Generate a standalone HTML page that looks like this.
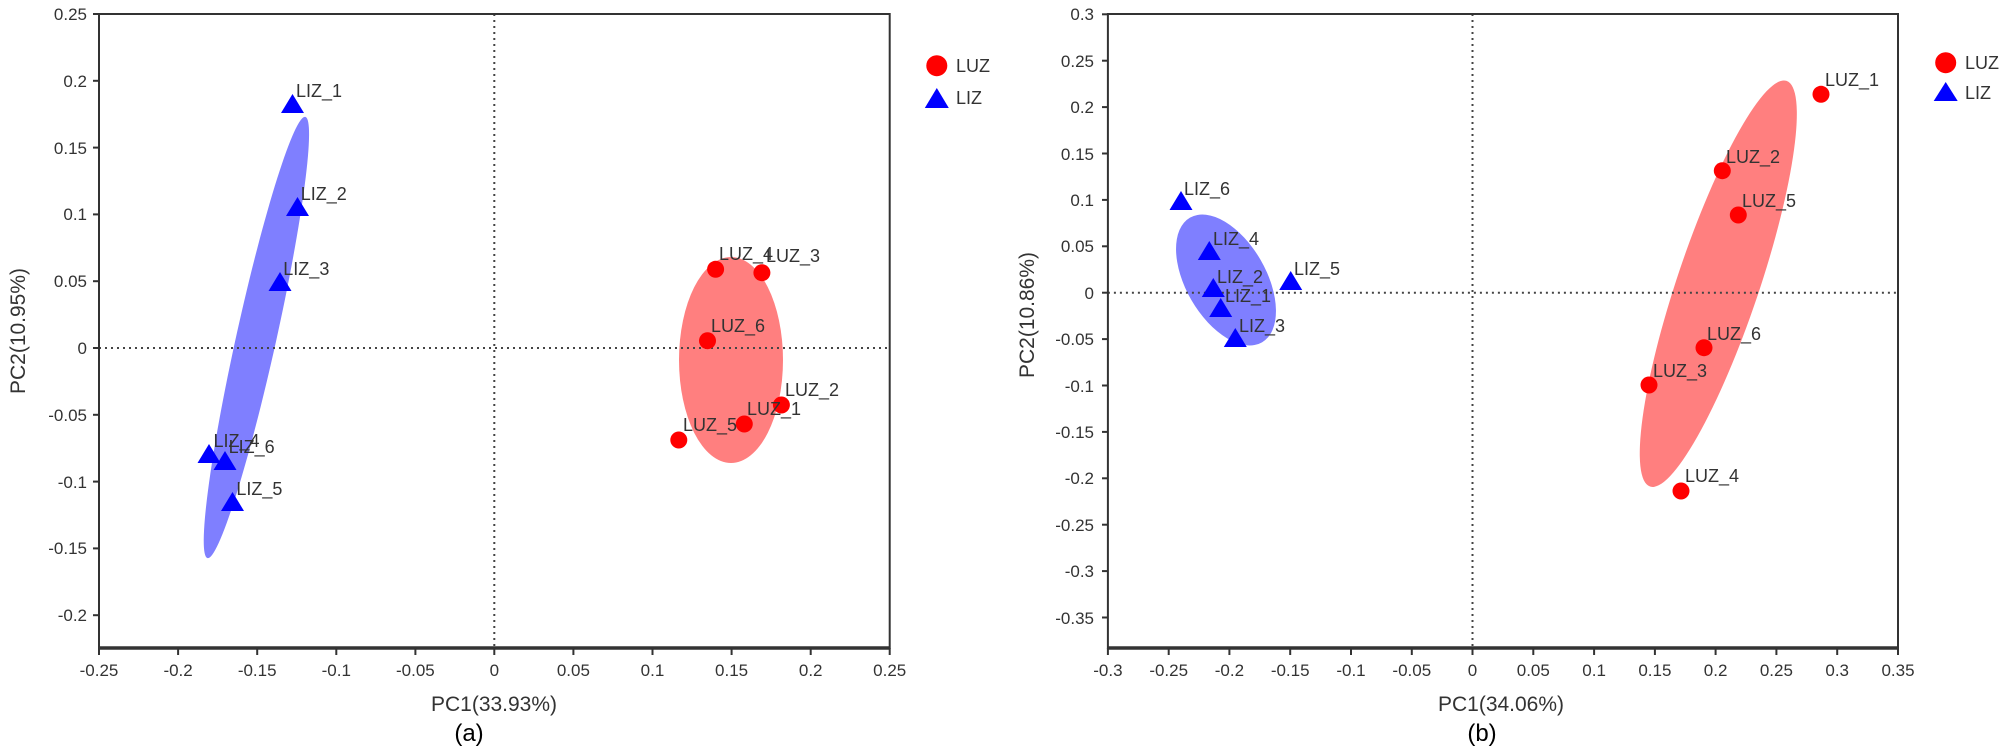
<!DOCTYPE html>
<html><head><meta charset="utf-8"><style>
html,body{margin:0;padding:0;background:#fff;}
svg{display:block;}
text{font-family:"Liberation Sans",Arial,sans-serif;fill:#333;}
.t{font-size:17px;}
.p{font-size:18px;}
.ax{font-size:21px;}
</style></head><body>
<svg width="2007" height="754" viewBox="0 0 2007 754" xmlns="http://www.w3.org/2000/svg">
<rect width="2007" height="754" fill="#fff"/>

<!-- ===== LEFT PLOT ===== -->
<ellipse cx="256.4" cy="337.5" rx="20" ry="226" transform="rotate(12.5 256.4 337.5)" fill="#7f7fff"/>
<ellipse cx="731" cy="360" rx="52" ry="103" fill="#ff7f7f"/>
<line x1="99" y1="348" x2="889.7" y2="348" stroke="#444" stroke-width="2" stroke-dasharray="2,4"/>
<line x1="494.3" y1="14" x2="494.3" y2="648" stroke="#444" stroke-width="2" stroke-dasharray="2,4"/>
<rect x="99" y="14" width="790.7" height="634" fill="none" stroke="#333" stroke-width="2"/>
<line x1="99" y1="648" x2="889.7" y2="648" stroke="#333" stroke-width="3.5"/>
<g stroke="#333" stroke-width="2">
<line x1="93" y1="14" x2="99" y2="14"/><line x1="93" y1="80.8" x2="99" y2="80.8"/><line x1="93" y1="147.6" x2="99" y2="147.6"/><line x1="93" y1="214.4" x2="99" y2="214.4"/><line x1="93" y1="281.2" x2="99" y2="281.2"/><line x1="93" y1="348" x2="99" y2="348"/><line x1="93" y1="414.8" x2="99" y2="414.8"/><line x1="93" y1="481.6" x2="99" y2="481.6"/><line x1="93" y1="548.4" x2="99" y2="548.4"/><line x1="93" y1="615.2" x2="99" y2="615.2"/>
<line x1="99" y1="648" x2="99" y2="655"/><line x1="178.1" y1="648" x2="178.1" y2="655"/><line x1="257.2" y1="648" x2="257.2" y2="655"/><line x1="336.3" y1="648" x2="336.3" y2="655"/><line x1="415.4" y1="648" x2="415.4" y2="655"/><line x1="494.3" y1="648" x2="494.3" y2="655"/><line x1="573.4" y1="648" x2="573.4" y2="655"/><line x1="652.5" y1="648" x2="652.5" y2="655"/><line x1="731.6" y1="648" x2="731.6" y2="655"/><line x1="810.7" y1="648" x2="810.7" y2="655"/><line x1="889.7" y1="648" x2="889.7" y2="655"/>
</g>
<g class="t" text-anchor="end">
<text x="87" y="20">0.25</text><text x="87" y="87">0.2</text><text x="87" y="154">0.15</text><text x="87" y="220">0.1</text><text x="87" y="287">0.05</text><text x="87" y="354">0</text><text x="87" y="421">-0.05</text><text x="87" y="488">-0.1</text><text x="87" y="554">-0.15</text><text x="87" y="621">-0.2</text>
</g>
<g class="t" text-anchor="middle">
<text x="99" y="676">-0.25</text><text x="178.1" y="676">-0.2</text><text x="257.2" y="676">-0.15</text><text x="336.3" y="676">-0.1</text><text x="415.4" y="676">-0.05</text><text x="494.3" y="676">0</text><text x="573.4" y="676">0.05</text><text x="652.5" y="676">0.1</text><text x="731.6" y="676">0.15</text><text x="810.7" y="676">0.2</text><text x="889.7" y="676">0.25</text>
</g>
<text class="ax" x="494" y="711" text-anchor="middle">PC1(33.93%)</text>
<text x="469" y="741" text-anchor="middle" style="font-size:24px;fill:#000">(a)</text>
<text class="ax" transform="translate(25,331) rotate(-90)" text-anchor="middle">PC2(10.95%)</text>
<!-- left points -->
<g fill="#0000ff">
<polygon points="281,113 304,113 292.5,94"/>
<polygon points="286,216 309,216 297.5,197"/>
<polygon points="268.5,291 291.5,291 280,272"/>
<polygon points="197.5,463 220.5,463 209,444"/>
<polygon points="213.5,470 236.5,470 225,451"/>
<polygon points="221,511 244,511 232.5,492"/>
</g>
<g fill="#ff0000">
<circle cx="715.6" cy="269.3" r="8.5"/><circle cx="761.9" cy="272.7" r="8.5"/><circle cx="707.5" cy="340.7" r="8.5"/><circle cx="781.4" cy="405" r="8.5"/><circle cx="744.3" cy="424" r="8.5"/><circle cx="678.8" cy="440" r="8.5"/>
</g>
<g class="p">
<text x="296" y="97">LIZ_1</text><text x="300.7" y="200">LIZ_2</text><text x="283.3" y="275">LIZ_3</text><text x="213.5" y="447">LIZ_4</text><text x="228.6" y="453">LIZ_6</text><text x="236.4" y="495">LIZ_5</text>
<text x="719" y="260">LUZ_4</text><text x="766" y="262">LUZ_3</text><text x="711" y="332">LUZ_6</text><text x="785" y="396">LUZ_2</text><text x="747" y="415">LUZ_1</text><text x="683" y="431">LUZ_5</text>
</g>
<!-- legend left -->
<circle cx="936.8" cy="65.7" r="10.5" fill="#ff0000"/>
<polygon points="924.8,108 948.8,108 936.8,88" fill="#0000ff"/>
<text class="p" x="956" y="72">LUZ</text>
<text class="p" x="956" y="104">LIZ</text>

<!-- ===== RIGHT PLOT ===== -->
<ellipse cx="1226" cy="280" rx="40" ry="72" transform="rotate(-30 1226 280)" fill="#7f7fff"/>
<ellipse cx="1718.3" cy="283.7" rx="41" ry="214" transform="rotate(18.6 1718.3 283.7)" fill="#ff7f7f"/>
<line x1="1107.9" y1="292.7" x2="1898" y2="292.7" stroke="#444" stroke-width="2" stroke-dasharray="2,4"/>
<line x1="1472.5" y1="14" x2="1472.5" y2="648" stroke="#444" stroke-width="2" stroke-dasharray="2,4"/>
<rect x="1107.9" y="14" width="790.1" height="634" fill="none" stroke="#333" stroke-width="2"/>
<line x1="1107.9" y1="648" x2="1898" y2="648" stroke="#333" stroke-width="3.5"/>
<g stroke="#333" stroke-width="2">
<line x1="1102" y1="14.3" x2="1108" y2="14.3"/><line x1="1102" y1="60.7" x2="1108" y2="60.7"/><line x1="1102" y1="107.1" x2="1108" y2="107.1"/><line x1="1102" y1="153.5" x2="1108" y2="153.5"/><line x1="1102" y1="199.9" x2="1108" y2="199.9"/><line x1="1102" y1="246.3" x2="1108" y2="246.3"/><line x1="1102" y1="292.7" x2="1108" y2="292.7"/><line x1="1102" y1="339.1" x2="1108" y2="339.1"/><line x1="1102" y1="385.5" x2="1108" y2="385.5"/><line x1="1102" y1="431.9" x2="1108" y2="431.9"/><line x1="1102" y1="478.3" x2="1108" y2="478.3"/><line x1="1102" y1="524.7" x2="1108" y2="524.7"/><line x1="1102" y1="571.1" x2="1108" y2="571.1"/><line x1="1102" y1="617.5" x2="1108" y2="617.5"/>
<line x1="1107.9" y1="648" x2="1107.9" y2="655"/><line x1="1168.7" y1="648" x2="1168.7" y2="655"/><line x1="1229.4" y1="648" x2="1229.4" y2="655"/><line x1="1290.2" y1="648" x2="1290.2" y2="655"/><line x1="1351" y1="648" x2="1351" y2="655"/><line x1="1411.8" y1="648" x2="1411.8" y2="655"/><line x1="1472.5" y1="648" x2="1472.5" y2="655"/><line x1="1533.3" y1="648" x2="1533.3" y2="655"/><line x1="1594.1" y1="648" x2="1594.1" y2="655"/><line x1="1654.9" y1="648" x2="1654.9" y2="655"/><line x1="1715.6" y1="648" x2="1715.6" y2="655"/><line x1="1776.4" y1="648" x2="1776.4" y2="655"/><line x1="1837.2" y1="648" x2="1837.2" y2="655"/><line x1="1898" y1="648" x2="1898" y2="655"/>
</g>
<g class="t" text-anchor="end">
<text x="1094" y="20">0.3</text><text x="1094" y="67">0.25</text><text x="1094" y="113">0.2</text><text x="1094" y="160">0.15</text><text x="1094" y="206">0.1</text><text x="1094" y="252">0.05</text><text x="1094" y="299">0</text><text x="1094" y="345">-0.05</text><text x="1094" y="392">-0.1</text><text x="1094" y="438">-0.15</text><text x="1094" y="484">-0.2</text><text x="1094" y="531">-0.25</text><text x="1094" y="577">-0.3</text><text x="1094" y="624">-0.35</text>
</g>
<g class="t" text-anchor="middle">
<text x="1107.9" y="676">-0.3</text><text x="1168.7" y="676">-0.25</text><text x="1229.4" y="676">-0.2</text><text x="1290.2" y="676">-0.15</text><text x="1351" y="676">-0.1</text><text x="1411.8" y="676">-0.05</text><text x="1472.5" y="676">0</text><text x="1533.3" y="676">0.05</text><text x="1594.1" y="676">0.1</text><text x="1654.9" y="676">0.15</text><text x="1715.6" y="676">0.2</text><text x="1776.4" y="676">0.25</text><text x="1837.2" y="676">0.3</text><text x="1898" y="676">0.35</text>
</g>
<text class="ax" x="1501" y="711" text-anchor="middle">PC1(34.06%)</text>
<text x="1482" y="741" text-anchor="middle" style="font-size:24px;fill:#000">(b)</text>
<text class="ax" transform="translate(1034,315) rotate(-90)" text-anchor="middle">PC2(10.86%)</text>
<g fill="#0000ff">
<polygon points="1169.5,210 1192.5,210 1181,191"/>
<polygon points="1197.8,260 1220.8,260 1209.3,241"/>
<polygon points="1201.8,297 1224.8,297 1213.3,278"/>
<polygon points="1209.2,317 1232.2,317 1220.7,298"/>
<polygon points="1223.8,347 1246.8,347 1235.3,328"/>
<polygon points="1279.2,290 1302.2,290 1290.7,271"/>
</g>
<g fill="#ff0000">
<circle cx="1821" cy="94.3" r="8.5"/><circle cx="1722.3" cy="170.7" r="8.5"/><circle cx="1738.3" cy="215" r="8.5"/><circle cx="1704" cy="347.7" r="8.5"/><circle cx="1649" cy="385" r="8.5"/><circle cx="1681" cy="491" r="8.5"/>
</g>
<g class="p">
<text x="1184" y="195">LIZ_6</text><text x="1213" y="245">LIZ_4</text><text x="1217" y="283">LIZ_2</text><text x="1225" y="302">LIZ_1</text><text x="1239" y="332">LIZ_3</text><text x="1294" y="275">LIZ_5</text>
<text x="1825" y="86">LUZ_1</text><text x="1726" y="163">LUZ_2</text><text x="1742" y="207">LUZ_5</text><text x="1707" y="340">LUZ_6</text><text x="1653" y="377">LUZ_3</text><text x="1685" y="482">LUZ_4</text>
</g>
<circle cx="1945.7" cy="62.7" r="10.5" fill="#ff0000"/>
<polygon points="1933.7,101 1957.7,101 1945.7,82" fill="#0000ff"/>
<text class="p" x="1965" y="69">LUZ</text>
<text class="p" x="1965" y="99">LIZ</text>
</svg>
</body></html>
